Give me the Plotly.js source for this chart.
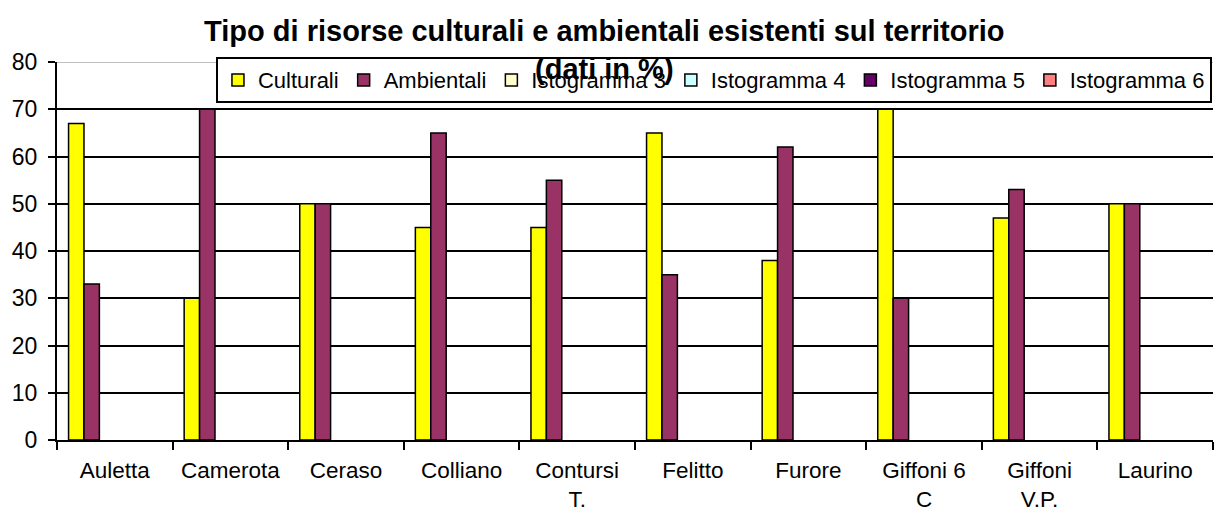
<!DOCTYPE html>
<html>
<head>
<meta charset="utf-8">
<script src="https://cdn.plot.ly/plotly-3.0.1.min.js"></script>
<style>html,body{margin:0;padding:0;background:#fff;}#chart{width:1227px;height:514px;}</style>
</head>
<body>
<div id="chart"></div>
<script>
const categories = ["Auletta", "Camerota", "Ceraso", "Colliano", "Contursi<br>T.", "Felitto", "Furore", "Giffoni 6<br>C", "Giffoni<br>V.P.", "Laurino"];
const culturali = [67, 30, 50, 45, 45, 65, 38, 70, 47, 50];
const ambientali = [33, 70, 50, 65, 55, 35, 62, 30, 53, 50];
const istogramma3 = [null, null, null, null, null, null, null, null, null, null];
const istogramma4 = [null, null, null, null, null, null, null, null, null, null];
const istogramma5 = [null, null, null, null, null, null, null, null, null, null];
const istogramma6 = [null, null, null, null, null, null, null, null, null, null];
const seriesNames = ["Culturali", "Ambientali", "Istogramma 3", "Istogramma 4", "Istogramma 5", "Istogramma 6"];
const seriesColors = ["#FFFF00", "#993366", "#FFFFCC", "#CCFFFF", "#660066", "#FF8080"];
const seriesValues = [culturali, ambientali, istogramma3, istogramma4, istogramma5, istogramma6];
const yTicks = [0, 10, 20, 30, 40, 50, 60, 70, 80];

const FONT = "Liberation Sans, Arial, sans-serif";

const traces = seriesValues.map((vals, i) => ({
  type: "bar",
  name: seriesNames[i],
  x: categories,
  y: vals,
  marker: { color: seriesColors[i], line: { color: "#000000", width: 1.5 } },
  hoverinfo: "x+y+name"
}));

const layout = {
  width: 1227,
  height: 514,
  margin: { l: 57, r: 14, t: 62, b: 74 },
  paper_bgcolor: "#ffffff",
  plot_bgcolor: "#ffffff",
  font: { family: FONT, color: "#000000", size: 23 },
  title: {
    text: "<b>Tipo di risorse culturali e ambientali esistenti sul territorio<br>(dati in %)</b>",
    font: { family: FONT, size: 29, color: "#000000" },
    x: 0.4925,
    xref: "container",
    xanchor: "center",
    y: 0.92,
    yref: "container",
    yanchor: "top"
  },
  barmode: "group",
  bargap: 0.2,
  bargroupgap: 0,
  showlegend: true,
  legend: {
    orientation: "h",
    x: 0.1375,
    xanchor: "left",
    y: 1.013,
    yanchor: "top",
    bgcolor: "#ffffff",
    bordercolor: "#000000",
    borderwidth: 2,
    font: { family: FONT, size: 22, color: "#000000" },
    traceorder: "normal"
  },
  xaxis: {
    type: "category",
    showline: true,
    linecolor: "#000000",
    linewidth: 2,
    ticks: "outside",
    tickson: "boundaries",
    ticklen: 8,
    tickwidth: 2,
    tickcolor: "#000000",
    showgrid: false,
    ticklabelstandoff: 9,
    tickfont: { family: FONT, size: 22.5, color: "#000000" },
    fixedrange: true
  },
  yaxis: {
    range: [0, 80],
    tickvals: yTicks,
    ticktext: yTicks.map(String),
    showline: true,
    linecolor: "#000000",
    linewidth: 2,
    ticks: "outside",
    ticklen: 7,
    tickwidth: 2,
    tickcolor: "#000000",
    showgrid: true,
    gridcolor: "#000000",
    gridwidth: 2,
    zeroline: false,
    ticklabelstandoff: 6,
    tickfont: { family: FONT, size: 23, color: "#000000" },
    fixedrange: true
  },
  shapes: [
    { type: "line", xref: "paper", yref: "y", x0: 0, x1: 1, y0: 80, y1: 80, layer: "above",
      line: { color: "#c0c0c0", width: 2 } }
  ]
};

Plotly.newPlot("chart", traces, layout, { displayModeBar: false, staticPlot: false });
</script>
</body>
</html>
